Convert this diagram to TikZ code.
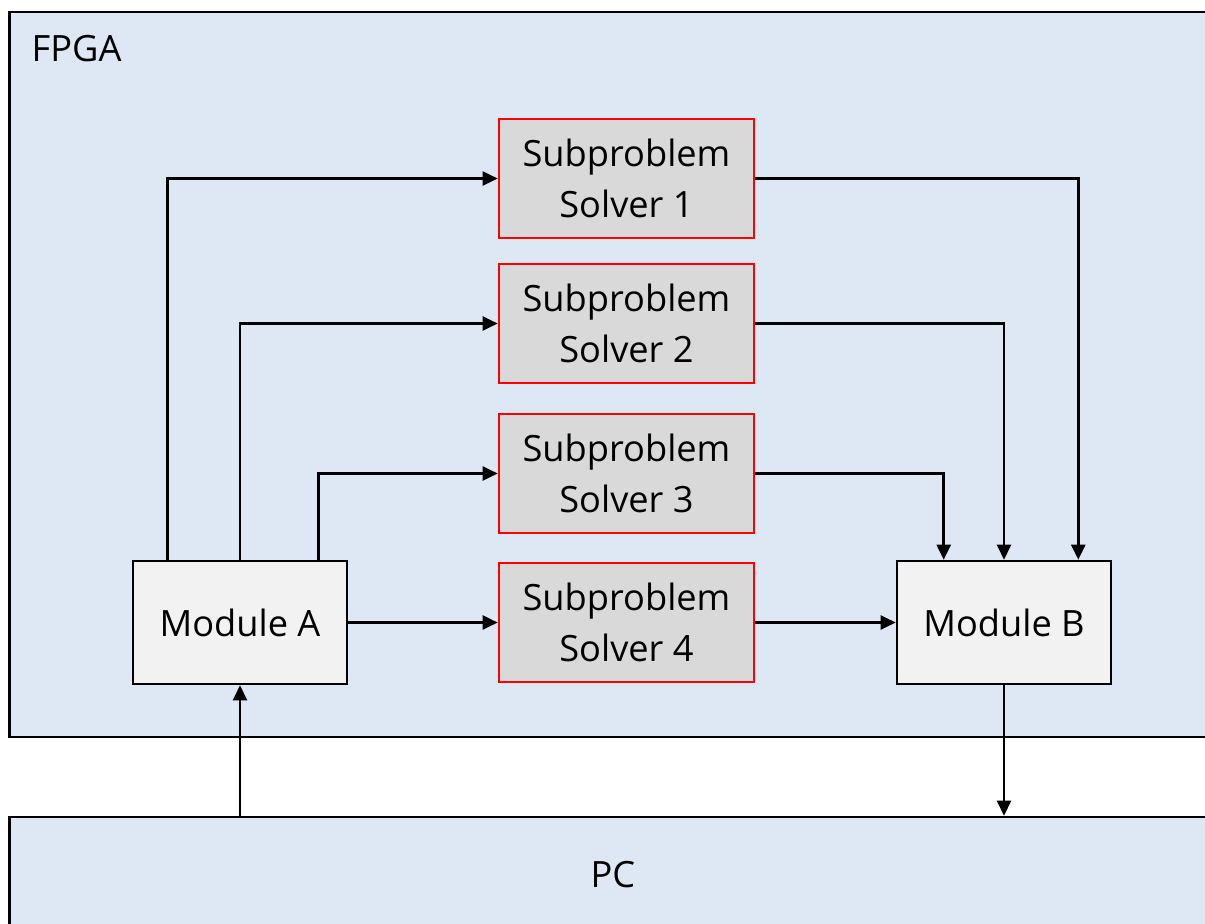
\documentclass[tikz,border=0pt]{standalone}
\usepackage{fontspec}
\setmainfont{Open Sans}
\usetikzlibrary{arrows.meta,calc}
\definecolor{boardblue}{HTML}{DEE8F4}
\definecolor{solvergray}{HTML}{D9D9D9}
\definecolor{modgray}{HTML}{F2F2F2}
\definecolor{solverred}{HTML}{FF0000}
\tikzset{
  lbl/.style={font=\fontsize{10.3pt}{14.5pt}\selectfont, text=black},
  board/.style={draw=black, line width=0.7pt, fill=boardblue, rectangle, inner sep=0pt},
  solver/.style={lbl, draw=solverred, line width=0.7pt, fill=solvergray, rectangle,
    minimum width=2.55cm, minimum height=1.19cm, inner sep=0pt, align=center},
  module/.style={lbl, draw=black, line width=0.7pt, fill=modgray, rectangle,
    minimum width=2.14cm, minimum height=1.23cm, inner sep=0pt, align=center},
  arr/.style={line width=0.7pt, -{Triangle[length=4.3pt,width=4pt]}}
}
\begin{document}
\begin{tikzpicture}[x=0.01cm,y=-0.01cm]
\clip (0,0) rectangle (1205,924);
\fill[white] (0,0) rectangle (1205,924);

% FPGA board and host PC
\node[board, minimum width=12.05cm, minimum height=7.25cm] (fpga) at (612.5,374.5) {};
\node[lbl, anchor=base west, inner sep=0pt] (fpgalbl) at (31,61) {FPGA};
\node[board, minimum width=12.05cm, minimum height=1.17cm] (pc) at (612.5,875.5) {};
\node[lbl] (pclbl) at (613,875) {PC};

% solvers
\node[solver] (s1) at (626.5,178.5) {Subproblem\\Solver 1};
\node[solver] (s2) at (626.5,323.5) {Subproblem\\Solver 2};
\node[solver] (s3) at (626.5,473.5) {Subproblem\\Solver 3};
\node[solver] (s4) at (626.5,622.5) {Subproblem\\Solver 4};

% modules
\node[module] (ma) at (240,622.5) {Module A};
\node[module] (mb) at (1004,622.5) {Module B};

% distribution from Module A
\draw[arr] ($(ma.north west)+(36,0)$) |- (s1.west);
\draw[arr] (ma.north) |- (s2.west);
\draw[arr] ($(ma.north east)+(-30,0)$) |- (s3.west);
\draw[arr] (ma.east) -- (s4.west);

% collection at Module B
\draw[arr] (s1.east) -| ($(mb.north east)+(-34,0)$);
\draw[arr] (s2.east) -| (mb.north);
\draw[arr] (s3.east) -| ($(mb.north west)+(48,0)$);
\draw[arr] (s4.east) -- (mb.west);

% host link
\draw[arr] (ma.south |- pc.north) -- (ma.south);
\draw[arr] (mb.south) -- (mb.south |- pc.north);
\end{tikzpicture}
\end{document}
